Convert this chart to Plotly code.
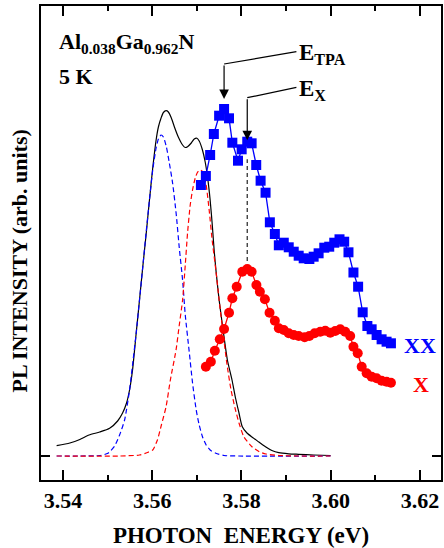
import numpy as np
import plotly.graph_objects as go

# ---------------- data ----------------
# measured PL spectrum (black solid)
pl_energy = [3.53860, 3.54156, 3.54379, 3.54586, 3.54825, 3.55047, 3.55226, 3.55337, 3.55426,
             3.55493, 3.55560, 3.55642, 3.55716, 3.55789, 3.55865, 3.55939, 3.56012, 3.56088,
             3.56139, 3.56199, 3.56251, 3.56311, 3.56362, 3.56429, 3.56496, 3.56585, 3.56681,
             3.56741, 3.56792, 3.56875, 3.56942, 3.57002, 3.57053, 3.57126, 3.57187, 3.57238,
             3.57298, 3.57349, 3.57387, 3.57432, 3.57499, 3.57588, 3.57684, 3.57788, 3.57866,
             3.57944, 3.58018, 3.58123, 3.58234, 3.58390, 3.58546, 3.58680, 3.58836, 3.59059,
             3.59281, 3.59616, 3.59994]
pl_intensity = [0.103, 0.13, 0.165, 0.21, 0.24, 0.277, 0.35, 0.43, 0.53,
                0.66, 0.86, 1.23, 1.56, 1.89, 2.22, 2.56, 2.88, 3.16,
                3.29, 3.38, 3.435, 3.453, 3.44, 3.38, 3.293, 3.19, 3.11,
                3.085, 3.093, 3.13, 3.17, 3.177, 3.15, 3.06, 2.94, 2.793,
                2.56, 2.293, 2.06, 1.84, 1.56, 1.26, 0.96, 0.76, 0.58,
                0.43, 0.293, 0.23, 0.19, 0.14, 0.09, 0.055, 0.033, 0.022,
                0.017, 0.01, 0.005]

# biexciton (XX) component of the fit (blue dashed)
xx_fit_energy = [3.53860, 3.54379, 3.54825, 3.55009, 3.55159, 3.55270, 3.55382, 3.55493, 3.55560,
                 3.55642, 3.55716, 3.55789, 3.55865, 3.55939, 3.56012, 3.56088, 3.56139, 3.56199,
                 3.56251, 3.56318, 3.56384, 3.56458, 3.56540, 3.56607, 3.56681, 3.56741, 3.56830,
                 3.56904, 3.56986, 3.57053, 3.57126, 3.57209, 3.57298, 3.57425, 3.57610, 3.57944,
                 3.59994]
xx_fit_intensity = [0, 0, 0.005, 0.027, 0.10, 0.21, 0.36, 0.66, 0.91,
                    1.23, 1.56, 1.89, 2.24, 2.56, 2.86, 3.08, 3.17, 3.21,
                    3.19, 3.09, 2.93, 2.727, 2.41, 2.08, 1.76, 1.41, 1.04,
                    0.73, 0.46, 0.31, 0.193, 0.11, 0.06, 0.027, 0.005, 0,
                    0]

# exciton (X) component of the fit (red dashed)
x_fit_energy = [3.53860, 3.55270, 3.55716, 3.55894, 3.56012, 3.56117, 3.56206, 3.56311, 3.56407,
                3.56534, 3.56607, 3.56681, 3.56741, 3.56792, 3.56852, 3.56904, 3.56964, 3.57019,
                3.57075, 3.57142, 3.57209, 3.57276, 3.57343, 3.57425, 3.57499, 3.57588, 3.57677,
                3.57766, 3.57855, 3.57944, 3.58056, 3.58234, 3.58390, 3.58546, 3.58836, 3.59281,
                3.59994]
x_fit_intensity = [0, 0, 0.01, 0.035, 0.06, 0.16, 0.31, 0.493, 0.76,
                   1.06, 1.31, 1.56, 1.91, 2.23, 2.51, 2.66, 2.78, 2.84,
                   2.86, 2.84, 2.71, 2.46, 2.16, 1.86, 1.56, 1.23, 0.91,
                   0.66, 0.48, 0.33, 0.19, 0.093, 0.045, 0.02, 0.005, 0,
                   0]

# excitation spectrum of XX (blue squares)
xx_energy = [3.57091, 3.57202, 3.57298, 3.57381, 3.57499, 3.57610, 3.57721, 3.57795, 3.57922,
             3.58004, 3.58129, 3.58227, 3.58330, 3.58428, 3.58539, 3.58635, 3.58747, 3.58836,
             3.58947, 3.59058, 3.59170, 3.59281, 3.59393, 3.59520, 3.59616, 3.59727, 3.59854,
             3.59965, 3.60077, 3.60195, 3.60300, 3.60396, 3.60507, 3.60612, 3.60714, 3.60819,
             3.60915, 3.61026, 3.61138, 3.61249, 3.61347]
xx_intensity = [2.71, 2.80, 3.01, 3.22, 3.403, 3.47, 3.377, 3.133, 2.953,
                3.067, 3.143, 3.127, 2.91, 2.753, 2.633, 2.337, 2.22, 2.107,
                2.133, 2.087, 2.043, 2.003, 1.977, 1.97, 1.993, 2.027, 2.083,
                2.093, 2.133, 2.167, 2.143, 2.037, 1.835, 1.693, 1.437, 1.30,
                1.267, 1.21, 1.167, 1.143, 1.127]

# excitation spectrum of X (red circles)
x_energy = [3.57202, 3.57314, 3.57403, 3.57514, 3.57610, 3.57721, 3.57795, 3.57893, 3.58018,
            3.58129, 3.58227, 3.58334, 3.58412, 3.58524, 3.58628, 3.58747, 3.58836, 3.58947,
            3.59058, 3.59170, 3.59281, 3.59415, 3.59520, 3.59638, 3.59765, 3.59876, 3.59988,
            3.60099, 3.60211, 3.60322, 3.60434, 3.60507, 3.60603, 3.60692, 3.60803, 3.60915,
            3.61026, 3.61138, 3.61249, 3.61347]
x_intensity = [0.893, 0.943, 1.053, 1.167, 1.27, 1.433, 1.577, 1.693, 1.843,
               1.87, 1.843, 1.71, 1.643, 1.567, 1.433, 1.353, 1.277, 1.26,
               1.227, 1.21, 1.20, 1.187, 1.20, 1.227, 1.243, 1.253, 1.233,
               1.25, 1.267, 1.243, 1.20, 1.093, 1.027, 0.893, 0.827, 0.793,
               0.777, 0.753, 0.743, 0.733]

x_tick_values = [3.54, 3.56, 3.58, 3.60, 3.62]
x_tick_labels = ["3.54", "3.56", "3.58", "3.60", "3.62"]

# ---------------- figure ----------------
FONT = "Liberation Serif"
BLUE = "#0000ff"
RED = "#ff0000"

fig = go.Figure()

fig.add_trace(go.Scatter(x=pl_energy, y=pl_intensity, mode="lines",
                         line=dict(color="black", width=1.2, shape="spline", smoothing=0.6)))
fig.add_trace(go.Scatter(x=xx_fit_energy, y=xx_fit_intensity, mode="lines",
                         line=dict(color=BLUE, width=1.2, dash="5px,3px", shape="spline", smoothing=0.6)))
fig.add_trace(go.Scatter(x=x_fit_energy, y=x_fit_intensity, mode="lines",
                         line=dict(color=RED, width=1.2, dash="5px,3px", shape="spline", smoothing=0.6)))
fig.add_trace(go.Scatter(x=xx_energy, y=xx_intensity, mode="lines+markers",
                         line=dict(color=BLUE, width=1.3),
                         marker=dict(symbol="square", size=10, color=BLUE)))
fig.add_trace(go.Scatter(x=x_energy, y=x_intensity, mode="lines+markers",
                         line=dict(color=RED, width=1.3),
                         marker=dict(symbol="circle", size=10, color=RED)))

# positions of the marked energies derived from the data
i_tpa = int(np.argmax(xx_intensity))
e_tpa, y_tpa = xx_energy[i_tpa], xx_intensity[i_tpa]
i_x = int(np.argmax(x_intensity))
e_x, y_x = x_energy[i_x], x_intensity[i_x]
y_xx_at_ex = xx_intensity[i_x]

# vertical dashed marker between the two spectra at E_X
fig.add_shape(type="line", x0=e_x, x1=e_x, y0=y_x + 0.08, y1=y_xx_at_ex - 0.1,
              line=dict(color="#333333", width=1.3, dash="4px,3px"))

# E_TPA arrow
fig.add_annotation(x=e_tpa, y=y_tpa + 0.1, ax=e_tpa, ay=3.92, axref="x", ayref="y",
                   text="", showarrow=True, arrowhead=2, arrowsize=1.6, arrowwidth=1.2,
                   arrowcolor="black")
fig.add_shape(type="line", x0=e_tpa, y0=3.92, x1=3.5923, y1=4.043,
              line=dict(color="black", width=1.2))
fig.add_annotation(x=3.5925, y=4.02, text="E<sub>TPA</sub>", showarrow=False,
                   xanchor="left", yanchor="middle",
                   font=dict(family=FONT, size=23, color="black", weight="bold"))

# E_X arrow
fig.add_annotation(x=e_x, y=y_xx_at_ex + 0.09, ax=e_x, ay=3.583, axref="x", ayref="y",
                   text="", showarrow=True, arrowhead=2, arrowsize=1.6, arrowwidth=1.2,
                   arrowcolor="black")
fig.add_shape(type="line", x0=e_x, y0=3.583, x1=3.5923, y1=3.687,
              line=dict(color="black", width=1.2))
fig.add_annotation(x=3.5925, y=3.66, text="E<sub>X</sub>", showarrow=False,
                   xanchor="left", yanchor="middle",
                   font=dict(family=FONT, size=23, color="black", weight="bold"))

# sample / temperature labels
fig.add_annotation(x=3.5386, y=4.13, text="Al<sub>0.038</sub>Ga<sub>0.962</sub>N",
                   showarrow=False, xanchor="left", yanchor="middle",
                   font=dict(family=FONT, size=22, color="black", weight="bold"))
fig.add_annotation(x=3.5386, y=3.80, text="5 K", showarrow=False,
                   xanchor="left", yanchor="middle",
                   font=dict(family=FONT, size=22, color="black", weight="bold"))

# series labels
fig.add_annotation(x=xx_energy[-1] + 0.0024, y=xx_intensity[-1] - 0.02, text="XX",
                   showarrow=False, xanchor="left", yanchor="middle",
                   font=dict(family=FONT, size=22, color=BLUE, weight="bold"))
fig.add_annotation(x=x_energy[-1] + 0.0044, y=x_intensity[-1] - 0.02, text="X",
                   showarrow=False, xanchor="left", yanchor="middle",
                   font=dict(family=FONT, size=22, color=RED, weight="bold"))

# y axis title
fig.add_annotation(xref="paper", yref="paper", x=-0.054, y=0.462,
                   text="PL INTENSITY (arb. units)", textangle=-90, showarrow=False,
                   xanchor="center", yanchor="middle",
                   font=dict(family=FONT, size=22, color="black", weight="bold"))

fig.update_layout(
    width=444, height=548,
    margin=dict(l=41, r=1, t=6, b=68),
    plot_bgcolor="white", paper_bgcolor="white",
    showlegend=False,
    font=dict(family=FONT, color="black"),
    xaxis=dict(
        range=[3.53510, 3.62468],
        tickvals=x_tick_values, ticktext=x_tick_labels,
        ticks="inside", ticklen=10, tickwidth=1.8, tickcolor="black",
        minor=dict(dtick=0.01, tick0=3.53, ticks="inside", ticklen=5, tickwidth=1.8, tickcolor="black"),
        showline=True, linewidth=2, linecolor="black", mirror="allticks",
        showgrid=False, zeroline=False,
        tickfont=dict(family=FONT, size=22, color="black", weight="bold"),
        title=dict(text="PHOTON\u00a0 ENERGY (eV)", standoff=16,
                   font=dict(family=FONT, size=23, color="black", weight="bold")),
    ),
    yaxis=dict(
        range=[-0.24, 4.50],
        tickvals=[0], ticktext=[""],
        ticks="inside", ticklen=9, tickwidth=2, tickcolor="black",
        showline=True, linewidth=2, linecolor="black", mirror="allticks",
        showgrid=False, zeroline=False, showticklabels=False,
    ),
)

fig.write_html("out.html")
